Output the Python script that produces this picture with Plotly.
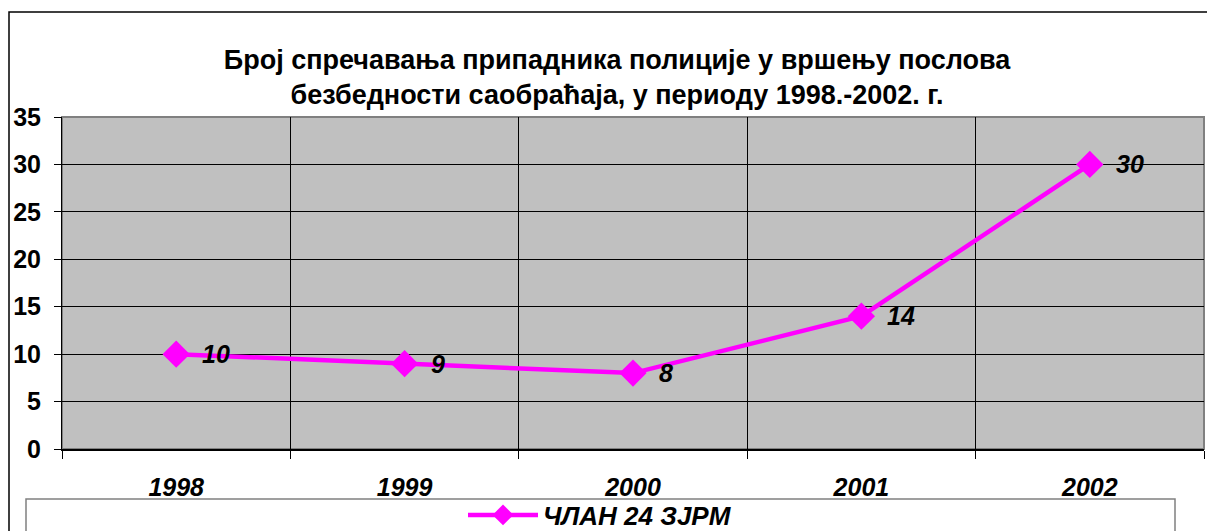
import plotly.graph_objects as go

years = ["1998", "1999", "2000", "2001", "2002"]
values = [10, 9, 8, 14, 30]
series_name = "ЧЛАН 24 ЗЈРМ"
title_lines = ["Број спречавања припадника полиције у вршењу послова",
               "безбедности саобраћаја, у периоду 1998.-2002. г."]
y_ticks = [0, 5, 10, 15, 20, 25, 30, 35]

FONT = "Liberation Sans, Arial, sans-serif"
OFF = 8  # default page body margin
W, H = 1215 - OFF, 531 - OFF
# target positions in screenshot pixels
PL, PR, PT, PB = 62, 1204, 117, 449
L, R, T, B = PL - OFF, W - (PR - OFF), PT - OFF, H - (PB - OFF)
pw, ph = W - L - R, H - T - B

def px_x(p):
    return (p - OFF - L) / pw

def px_y(p):
    return (H - B - (p - OFF)) / ph

LABEL_FONT = dict(family=FONT, size=25, color="black", weight="bold", style="italic")

fig = go.Figure()
fig.add_trace(go.Scatter(
    x=years, y=values, name=series_name,
    mode="lines+markers",
    line=dict(color="#FF00FF", width=4.5),
    marker=dict(symbol="diamond", size=21, color="#FF00FF"),
    cliponaxis=False,
))

# data labels: category axes take the category index for annotations
annotations = [
    dict(x=i, y=yv, xref="x", yref="y", text=str(yv), showarrow=False,
         xanchor="left", yanchor="middle", xshift=24, font=LABEL_FONT)
    for i, yv in enumerate(values)
]

fig.update_layout(
    width=W, height=H,
    margin=dict(l=L, r=R, t=T, b=B, autoexpand=False),
    paper_bgcolor="white",
    plot_bgcolor="#C0C0C0",
    title=dict(
        text="<br>".join(title_lines),
        x=(617 - OFF) / W, xanchor="center", y=1 - (69 - OFF) / H, yanchor="middle",
        font=dict(family=FONT, size=27, color="black", weight="bold"),
    ),
    showlegend=True,
    legend=dict(
        orientation="h", xref="container", yref="container",
        x=(600 - OFF) / W, xanchor="center", y=1 - (515 - OFF) / H, yanchor="middle",
        font=dict(family=FONT, size=26, color="black", weight="bold", style="italic"),
        bgcolor="rgba(0,0,0,0)", itemwidth=70,
    ),
    annotations=annotations,
    xaxis=dict(
        type="category", tickson="boundaries",
        range=[-0.5, 4.5],
        showgrid=True, gridcolor="black", gridwidth=1,
        showline=True, linecolor="black", linewidth=1.5,
        ticks="outside", ticklen=8, tickcolor="black",
        ticklabelstandoff=15,
        tickfont=dict(family=FONT, size=25, color="black", weight="bold", style="italic"),
        zeroline=False,
    ),
    yaxis=dict(
        range=[0, 35], tickvals=y_ticks,
        showgrid=True, gridcolor="black", gridwidth=1,
        showline=True, linecolor="black", linewidth=1,
        ticks="outside", ticklen=7, tickcolor="black",
        ticklabelstandoff=8,
        tickfont=dict(family=FONT, size=25, color="black", weight="bold"),
        zeroline=False,
    ),
    shapes=[
        # plot area frame (top/right gray)
        dict(type="rect", xref="paper", yref="paper", x0=0, x1=1, y0=0, y1=1,
             line=dict(color="#808080", width=2), layer="below"),
        # outer chart border
        dict(type="rect", xref="paper", yref="paper",
             x0=px_x(9), x1=px_x(1240), y0=px_y(560), y1=px_y(12),
             line=dict(color="black", width=1.5)),
        # legend box
        dict(type="rect", xref="paper", yref="paper",
             x0=px_x(26), x1=px_x(1175), y0=px_y(560), y1=px_y(499),
             line=dict(color="#808080", width=1.5)),
    ],
)

fig.write_html("out.html")
